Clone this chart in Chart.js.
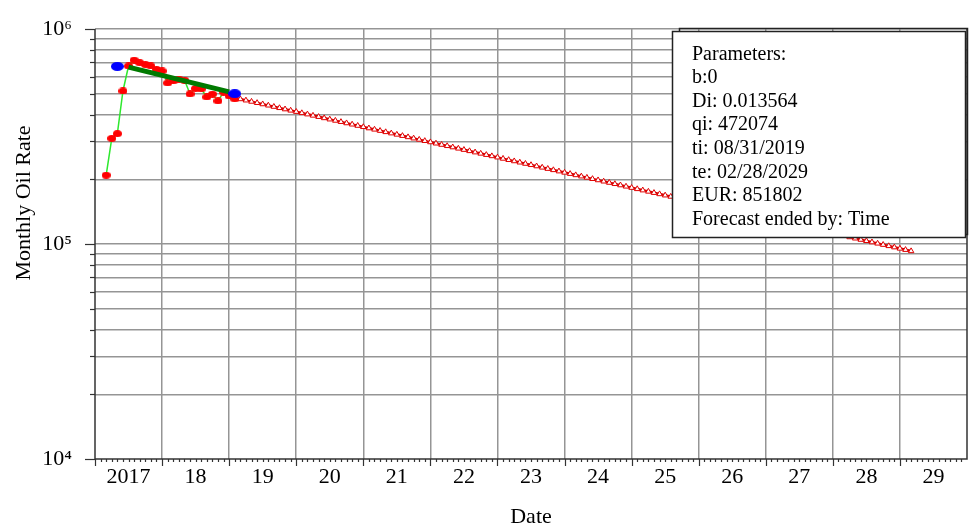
<!DOCTYPE html>
<html>
<head>
<meta charset="utf-8">
<script src="https://cdn.jsdelivr.net/npm/chart.js@4.4.1/dist/chart.umd.min.js"></script>
<style>
html,body{margin:0;padding:0;background:#fff;}
#wrap{width:970px;height:528px;position:relative;}
</style>
</head>
<body>
<div id="wrap"><canvas id="c" width="970" height="528"></canvas></div>
<script>
// ---------------- data ----------------
const historyMonths = ['2017-02','2017-03','2017-04','2017-05','2017-06','2017-07','2017-08','2017-09','2017-10','2017-11','2017-12',
  '2018-01','2018-02','2018-03','2018-04','2018-05','2018-06','2018-07','2018-08','2018-09','2018-10','2018-11','2018-12','2019-01'];
const historyRates = [209000,310000,326000,515000,673000,717000,697000,685000,673000,649000,638000,
  561000,573000,585000,579000,499000,529000,526000,483000,498000,463000,509000,488000,473000];

const fitMonths = ['2017-06','2018-12'];
const fitRates = [665000,510000];

const fitRangeMonths = ['2017-04','2019-01'];
const fitRangeRates = [670000,500000];

const forecastStartMonth = '2019-02';
const forecastRates = [
  472074,465714,459440,453250,447145,441121,435179,429316,423532,417827,412198,406646,
  401164,395760,390428,385168,379979,374861,369811,364829,359914,355065,350282,345564,
  340905,336312,331781,327312,322902,318552,314261,310027,305851,301731,297666,293656,
  289698,285795,281945,278146,274400,270703,267056,263459,259909,256408,252954,249546,
  246182,242865,239593,236366,233182,230040,226941,223884,220868,217893,214958,212062,
  209203,206385,203604,200861,198155,195486,192853,190254,187692,185163,182669,180208,
  177779,175384,173021,170690,168391,166122,163885,161677,159499,157350,155230,153139,
  151075,149040,147032,145051,143097,141169,139268,137391,135541,133715,131913,130136,
  128382,126652,124946,123263,121602,119964,118348,116754,115181,113629,112099,110589,
  109098,107628,106178,104748,103337,101945,100571,99216,97880,96561,95260,93977,
  92710];

const yearLabels = ['2017','18','19','20','21','22','23','24','25','26','27','28','29'];
const yDecadeLabels = {4:'10\u2074',5:'10\u2075',6:'10\u2076'};
const parameterLines = ['Parameters:','b:0','Di: 0.013564','qi: 472074','ti: 08/31/2019','te: 02/28/2029','EUR: 851802','Forecast ended by: Time'];
const xTitle = 'Date';
const yTitle = 'Monthly Oil Rate';

// ---------------- helpers ----------------
const FONT = '"Liberation Serif", "Times New Roman", serif';
function monthEnd(s){ const [y,m]=s.split('-').map(Number); return y + m/12; }
function addMonths(s,n){ let [y,m]=s.split('-').map(Number); m += n; y += Math.floor((m-1)/12); m = ((m-1)%12+12)%12+1; return y+'-'+String(m).padStart(2,'0'); }
const pairs = (months, vals) => months.map((mo,i)=>({x:monthEnd(mo), y:vals[i]}));

function ellipseMarker(w,h,color){
  const c=document.createElement('canvas'); c.width=w; c.height=h;
  const g=c.getContext('2d'); g.fillStyle=color; g.beginPath();
  g.ellipse(w/2,h/2,w/2,h/2,0,0,Math.PI*2); g.fill(); return c;
}
const redDot = ellipseMarker(9,7,'#ff0000');
const blueDot = ellipseMarker(13,9,'#0000ff');

const histData = pairs(historyMonths, historyRates);
const fitData = pairs(fitMonths, fitRates);
const rangeData = pairs(fitRangeMonths, fitRangeRates);
const forecastData = forecastRates.map((v,i)=>({x:monthEnd(addMonths(forecastStartMonth,i)), y:v}));

const X0 = 2017, X1 = 2030;
const xTickVals = [];
for (let y=X0; y<=X1; y++){ xTickVals.push(y); if (y<X1) xTickVals.push(y+0.5); }
const yTickVals = [];
for (let e=4; e<6; e++) for (let k=1; k<10; k++) yTickVals.push(k*Math.pow(10,e));
yTickVals.push(1e6);

const GRID = '#959595';
const AXIS = '#333333';
const TARGET_RIGHT = 967;

// keep the plot frame's right edge where the reference has it
const layoutFix = {
  id:'layoutFix',
  afterLayout(chart){
    const a = chart.chartArea, x = chart.scales.x;
    if (Math.abs(a.right - TARGET_RIGHT) > 0.1){
      a.right = TARGET_RIGHT; a.width = a.right - a.left;
      x.right = TARGET_RIGHT; x.width = x.right - x.left;
      x.configure();
    }
  }
};

const decorPlugin = {
  id:'decor',
  afterDraw(chart){
    const {ctx, chartArea:a, scales:{x,y}} = chart;
    ctx.save();
    ctx.strokeStyle = AXIS; ctx.lineWidth = 1.2;
    for (let yr=X0; yr<X1; yr++){
      for (let m=0; m<12; m++){
        const px = Math.round(x.getPixelForValue(yr + m/12)) + 0.5;
        const len = m===0 ? 7 : 3;
        ctx.beginPath(); ctx.moveTo(px, a.bottom); ctx.lineTo(px, a.bottom+len); ctx.stroke();
      }
    }
    for (const v of yTickVals){
      const py = Math.round(y.getPixelForValue(v)) + 0.5;
      const e = Math.log10(v);
      const len = Math.abs(e-Math.round(e))<1e-9 ? 10 : 5;
      ctx.beginPath(); ctx.moveTo(a.left-len, py); ctx.lineTo(a.left, py); ctx.stroke();
    }
    ctx.lineWidth = 1.5; ctx.strokeStyle = AXIS;
    ctx.beginPath();
    ctx.moveTo(a.left, a.top); ctx.lineTo(a.left, a.bottom); ctx.lineTo(a.right, a.bottom); ctx.lineTo(a.right, a.top);
    ctx.stroke();
    ctx.fillStyle = '#000';
    ctx.font = '22px ' + FONT;
    ctx.textAlign = 'center'; ctx.textBaseline = 'middle';
    ctx.translate(24, 203); ctx.rotate(-Math.PI/2);
    ctx.fillText(yTitle, 0, 0);
    ctx.setTransform(1,0,0,1,0,0);
    ctx.lineWidth = 1.5; ctx.strokeStyle = '#222';
    ctx.strokeRect(679.5, 28.5, 288, 206);
    ctx.fillStyle = '#fff';
    ctx.fillRect(672.5, 31.5, 293, 206);
    ctx.strokeRect(672.5, 31.5, 293, 206);
    ctx.fillStyle = '#000';
    ctx.font = '20px ' + FONT;
    ctx.textAlign = 'left'; ctx.textBaseline = 'alphabetic';
    parameterLines.forEach((t,i)=> ctx.fillText(t, 692, 59.5 + i*23.6));
    ctx.restore();
  }
};

new Chart(document.getElementById('c').getContext('2d'), {
  type:'line',
  data:{ datasets:[
    {label:'Fit range', data:rangeData, showLine:false, pointStyle:blueDot, pointRadius:6, order:0},
    {label:'Fit', data:fitData, borderColor:'#007a00', borderWidth:5, pointRadius:0, order:1},
    {label:'History', data:histData, borderColor:'#2ee82e', borderWidth:1.5, pointStyle:redDot, pointRadius:5, order:2},
    {label:'Forecast', data:forecastData, borderColor:'#d40000', borderWidth:2.5,
     pointStyle:'triangle', pointRadius:3.2, pointBackgroundColor:'#ffffff', pointBorderColor:'#e00000', pointBorderWidth:1, order:3}
  ]},
  options:{
    responsive:false, animation:false, events:[],
    layout:{padding:{left:0, top:29, right:3, bottom:0}},
    plugins:{legend:{display:false}, tooltip:{enabled:false}},
    scales:{
      x:{
        type:'linear', min:X0, max:X1,
        afterBuildTicks: s => { s.ticks = xTickVals.map(v=>({value:v})); },
        afterFit: s => { s.height = 69; s.paddingLeft = 0; s.paddingRight = 0; },
        grid:{drawTicks:false, lineWidth:1.5,
          color: c => { const v=c.tick && c.tick.value; return (Number.isInteger(v) && v>X0 && v<X1) ? GRID : 'rgba(0,0,0,0)'; }},
        border:{display:false},
        ticks:{autoSkip:false, maxRotation:0, minRotation:0, padding:5, color:'#000',
          font:{family:FONT, size:22},
          callback: v => Number.isInteger(v) ? '' : yearLabels[Math.floor(v)-X0]},
        title:{display:true, text:xTitle, color:'#000', font:{family:FONT, size:22, lineHeight:1}, padding:{top:0,bottom:0}}
      },
      y:{
        type:'logarithmic', min:1e4, max:1e6,
        afterBuildTicks: s => { s.ticks = yTickVals.map(v=>({value:v})); },
        afterFit: s => { s.width = 95; s.paddingTop = 0; s.paddingBottom = 0; },
        grid:{drawTicks:false, lineWidth:1.5,
          color: c => { const v=c.tick && c.tick.value; return (v && v>1e4) ? GRID : 'rgba(0,0,0,0)'; }},
        border:{display:false},
        ticks:{autoSkip:false, padding:23, color:'#000', font:{family:FONT, size:22},
          callback: v => { const e=Math.round(Math.log10(v)); return Math.abs(Math.log10(v)-e)<1e-9 ? yDecadeLabels[e] : ''; }}
      }
    }
  },
  plugins:[layoutFix, decorPlugin]
});
</script>
</body>
</html>
